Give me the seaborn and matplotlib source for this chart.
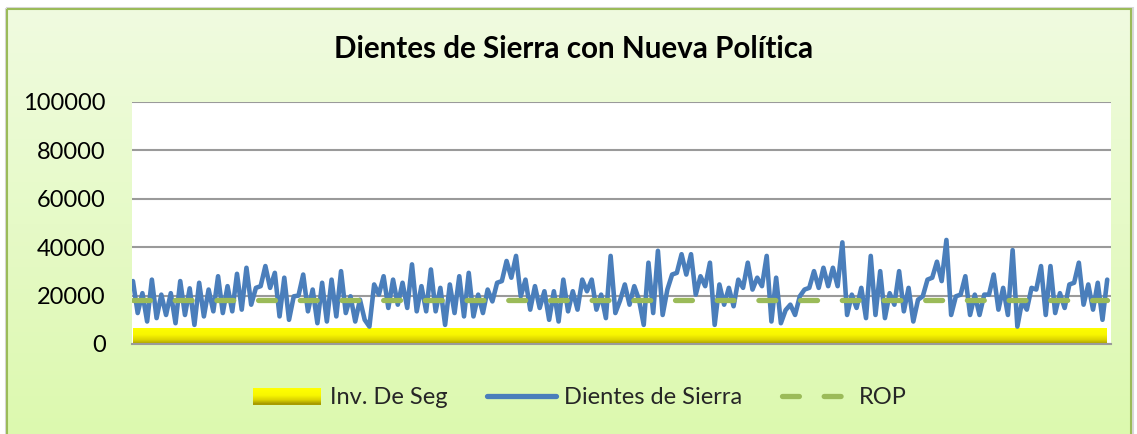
import matplotlib
matplotlib.use("Agg")
import numpy as np
import matplotlib.pyplot as plt
import seaborn as sns
from matplotlib.colors import LinearSegmentedColormap
from matplotlib.patches import Rectangle, Patch
from matplotlib.lines import Line2D
from matplotlib.legend_handler import HandlerBase

# Inventario diario
dientes = [
    26000, 12800, 21000, 9300, 26600, 10700, 20400, 12000, 21000, 8600,
    26000, 12000, 23000, 7900, 25300, 11400, 22500, 13500, 28000, 12800,
    23900, 13500, 29000, 14200, 31500, 16250, 23200, 23900, 32200, 23200,
    29400, 11400, 27400, 10000, 19700,
    20000, 28700, 13500, 22500, 8600, 25300, 9300, 26600, 11400, 30100,
    12800, 19700, 9300, 18300, 10000, 7200, 24600, 20400, 28000, 14900,
    26600, 16250, 25300, 14900, 32900, 13500, 23900, 13500, 30800, 13500,
    23200, 7900, 24600, 12800, 28000,
    11400, 29400, 11400, 20400, 12800, 22500, 17600, 25300, 26000, 34300,
    27400, 36400, 19700, 26600, 14200, 23900, 14900, 21800, 10000, 21800,
    9300, 26600, 13500, 21800, 14200, 26600, 21800, 26600, 14200, 20400,
    10700, 36400, 12800, 18000,
    24600, 16250, 23900, 18300, 7900, 33600, 12800, 38500, 12000, 22500,
    28700, 29400, 37100, 28700, 37100, 20400, 28000, 23900, 33600, 7900,
    24600, 16250, 23200, 15600, 26600, 23200, 33600, 22500, 27400, 23900,
    36400, 9300, 27400, 8600,
    14000, 16250, 12000, 19700, 22500, 23200, 30100, 23200, 31500, 23900,
    31500, 23900, 42000, 12000, 20400, 14900, 23200, 10700, 36400, 12000,
    30100, 10700, 21000, 16250, 30100, 13500, 23200, 9300, 18300, 19700,
    26600, 27400, 34000, 26000,
    43000, 12000, 19700, 20400, 28000, 12000, 20400, 12000, 20400, 20400,
    28700, 14200, 23200, 12000, 38800, 7200, 17600, 14200, 23200, 22500,
    32200, 12000, 32200, 12800, 21000, 14900, 24600, 25300, 33600, 16250,
    24600, 14200, 25300, 10000, 26600,
]
n = len(dientes)
dias = list(range(1, n + 1))
rop = [18000] * n
inv_seg = [6700] * n
y_ticks = [0, 20000, 40000, 60000, 80000, 100000]

sns.set_theme(style="white")
plt.rcParams["font.family"] = ["Lato", "DejaVu Sans"]

W, H = 1137, 434
fig = plt.figure(figsize=(W / 100, H / 100), dpi=100)
fig.patch.set_facecolor("white")

# fondo del area del grafico (degradado verde claro con borde)
bg = fig.add_axes([0, 0, 1, 1], zorder=-10)
bg.set_axis_off()
grad = np.linspace(0, 1, 256).reshape(-1, 1)
cmap_bg = LinearSegmentedColormap.from_list("bg", ["#f0fbe0", "#dcf9ae"])
bg.imshow(grad, cmap=cmap_bg, extent=[7, 1131, 440, 9], aspect="auto")
bg.add_patch(Rectangle((5.5, 7.5), 1127, 440, fill=False, edgecolor="#d8d8d8", linewidth=1.5))
bg.add_patch(Rectangle((7, 9), 1124, 440, fill=False, edgecolor="#9bbb59", linewidth=1.5))
bg.set_xlim(0, W)
bg.set_ylim(H, 0)

ax = fig.add_axes([132 / W, 1 - 344 / H, (1111 - 132) / W, (344 - 102) / H])
ax.set_facecolor("white")

cmap_yel = LinearSegmentedColormap.from_list(
    "yel", [(0, "#ffff00"), (0.45, "#f8f600"), (0.75, "#dcd400"), (1, "#a89c00")])
area = ax.fill_between(dias, 0, inv_seg, color="#ffff00", linewidth=0, zorder=2)
img = ax.imshow(grad, cmap=cmap_yel, extent=[dias[0], dias[-1], 0, max(inv_seg)],
                aspect="auto", zorder=2)
img.set_clip_path(area.get_paths()[0], transform=ax.transData)

sns.lineplot(x=dias, y=dientes, ax=ax, color="#4a7ebb", linewidth=3.3, zorder=3)
sns.lineplot(x=dias, y=rop, ax=ax, color="#9bbb59", linewidth=3.8,
             linestyle=(0, (3.2, 4.7)), dash_capstyle="round", zorder=4)

ax.set_xlim(dias[0] - 0.2, dias[-1] + 0.8)
ax.set_ylim(0, 100000)
ax.set_yticks(y_ticks)
ax.set_yticklabels([str(v) for v in y_ticks])
ax.set_xticks([])
ax.set_xlabel("")
ax.set_ylabel("")
ax.yaxis.grid(True, color="#9a9a9a", linewidth=1.5)
ax.set_axisbelow(True)
ax.tick_params(axis="y", length=0, pad=19, labelsize=17, labelcolor="black")
for side in ["top", "right", "left"]:
    ax.spines[side].set_visible(False)
ax.spines["bottom"].set_color("#9a9a9a")
ax.spines["bottom"].set_linewidth(1.5)
ax.spines["bottom"].set_zorder(5)

fig.text(574 / W, 1 - 49 / H, "Dientes de Sierra con Nueva Política",
         ha="center", va="center", fontsize=21.3, fontweight="bold", color="black")


class GradientHandler(HandlerBase):
    def create_artists(self, legend, orig_handle, xdescent, ydescent, width, height, fontsize, trans):
        steps = 16
        out = []
        for i in range(steps):
            out.append(Rectangle((-xdescent, -ydescent + height * i / steps), width, height / steps + 0.3,
                                 facecolor=cmap_yel(1 - i / (steps - 1)), edgecolor="none",
                                 linewidth=0, transform=trans))
        return out


handles = [
    Patch(facecolor="#ffff00"),
    Line2D([], [], color="#4a7ebb", linewidth=3.8),
    Line2D([], [], color="#9bbb59", linewidth=3.8, linestyle=(0, (3.2, 4.7)), dash_capstyle="round"),
]
fig.legend(handles, ["Inv. De Seg", "Dientes de Sierra", "ROP"],
           loc="center", bbox_to_anchor=(580 / W, 1 - 398 / H), ncol=3, frameon=False,
           fontsize=17, handlelength=2.9, handleheight=0.7, handletextpad=0.35,
           columnspacing=1.7, handler_map={Patch: GradientHandler()})

fig.savefig("out.png", dpi=100)
